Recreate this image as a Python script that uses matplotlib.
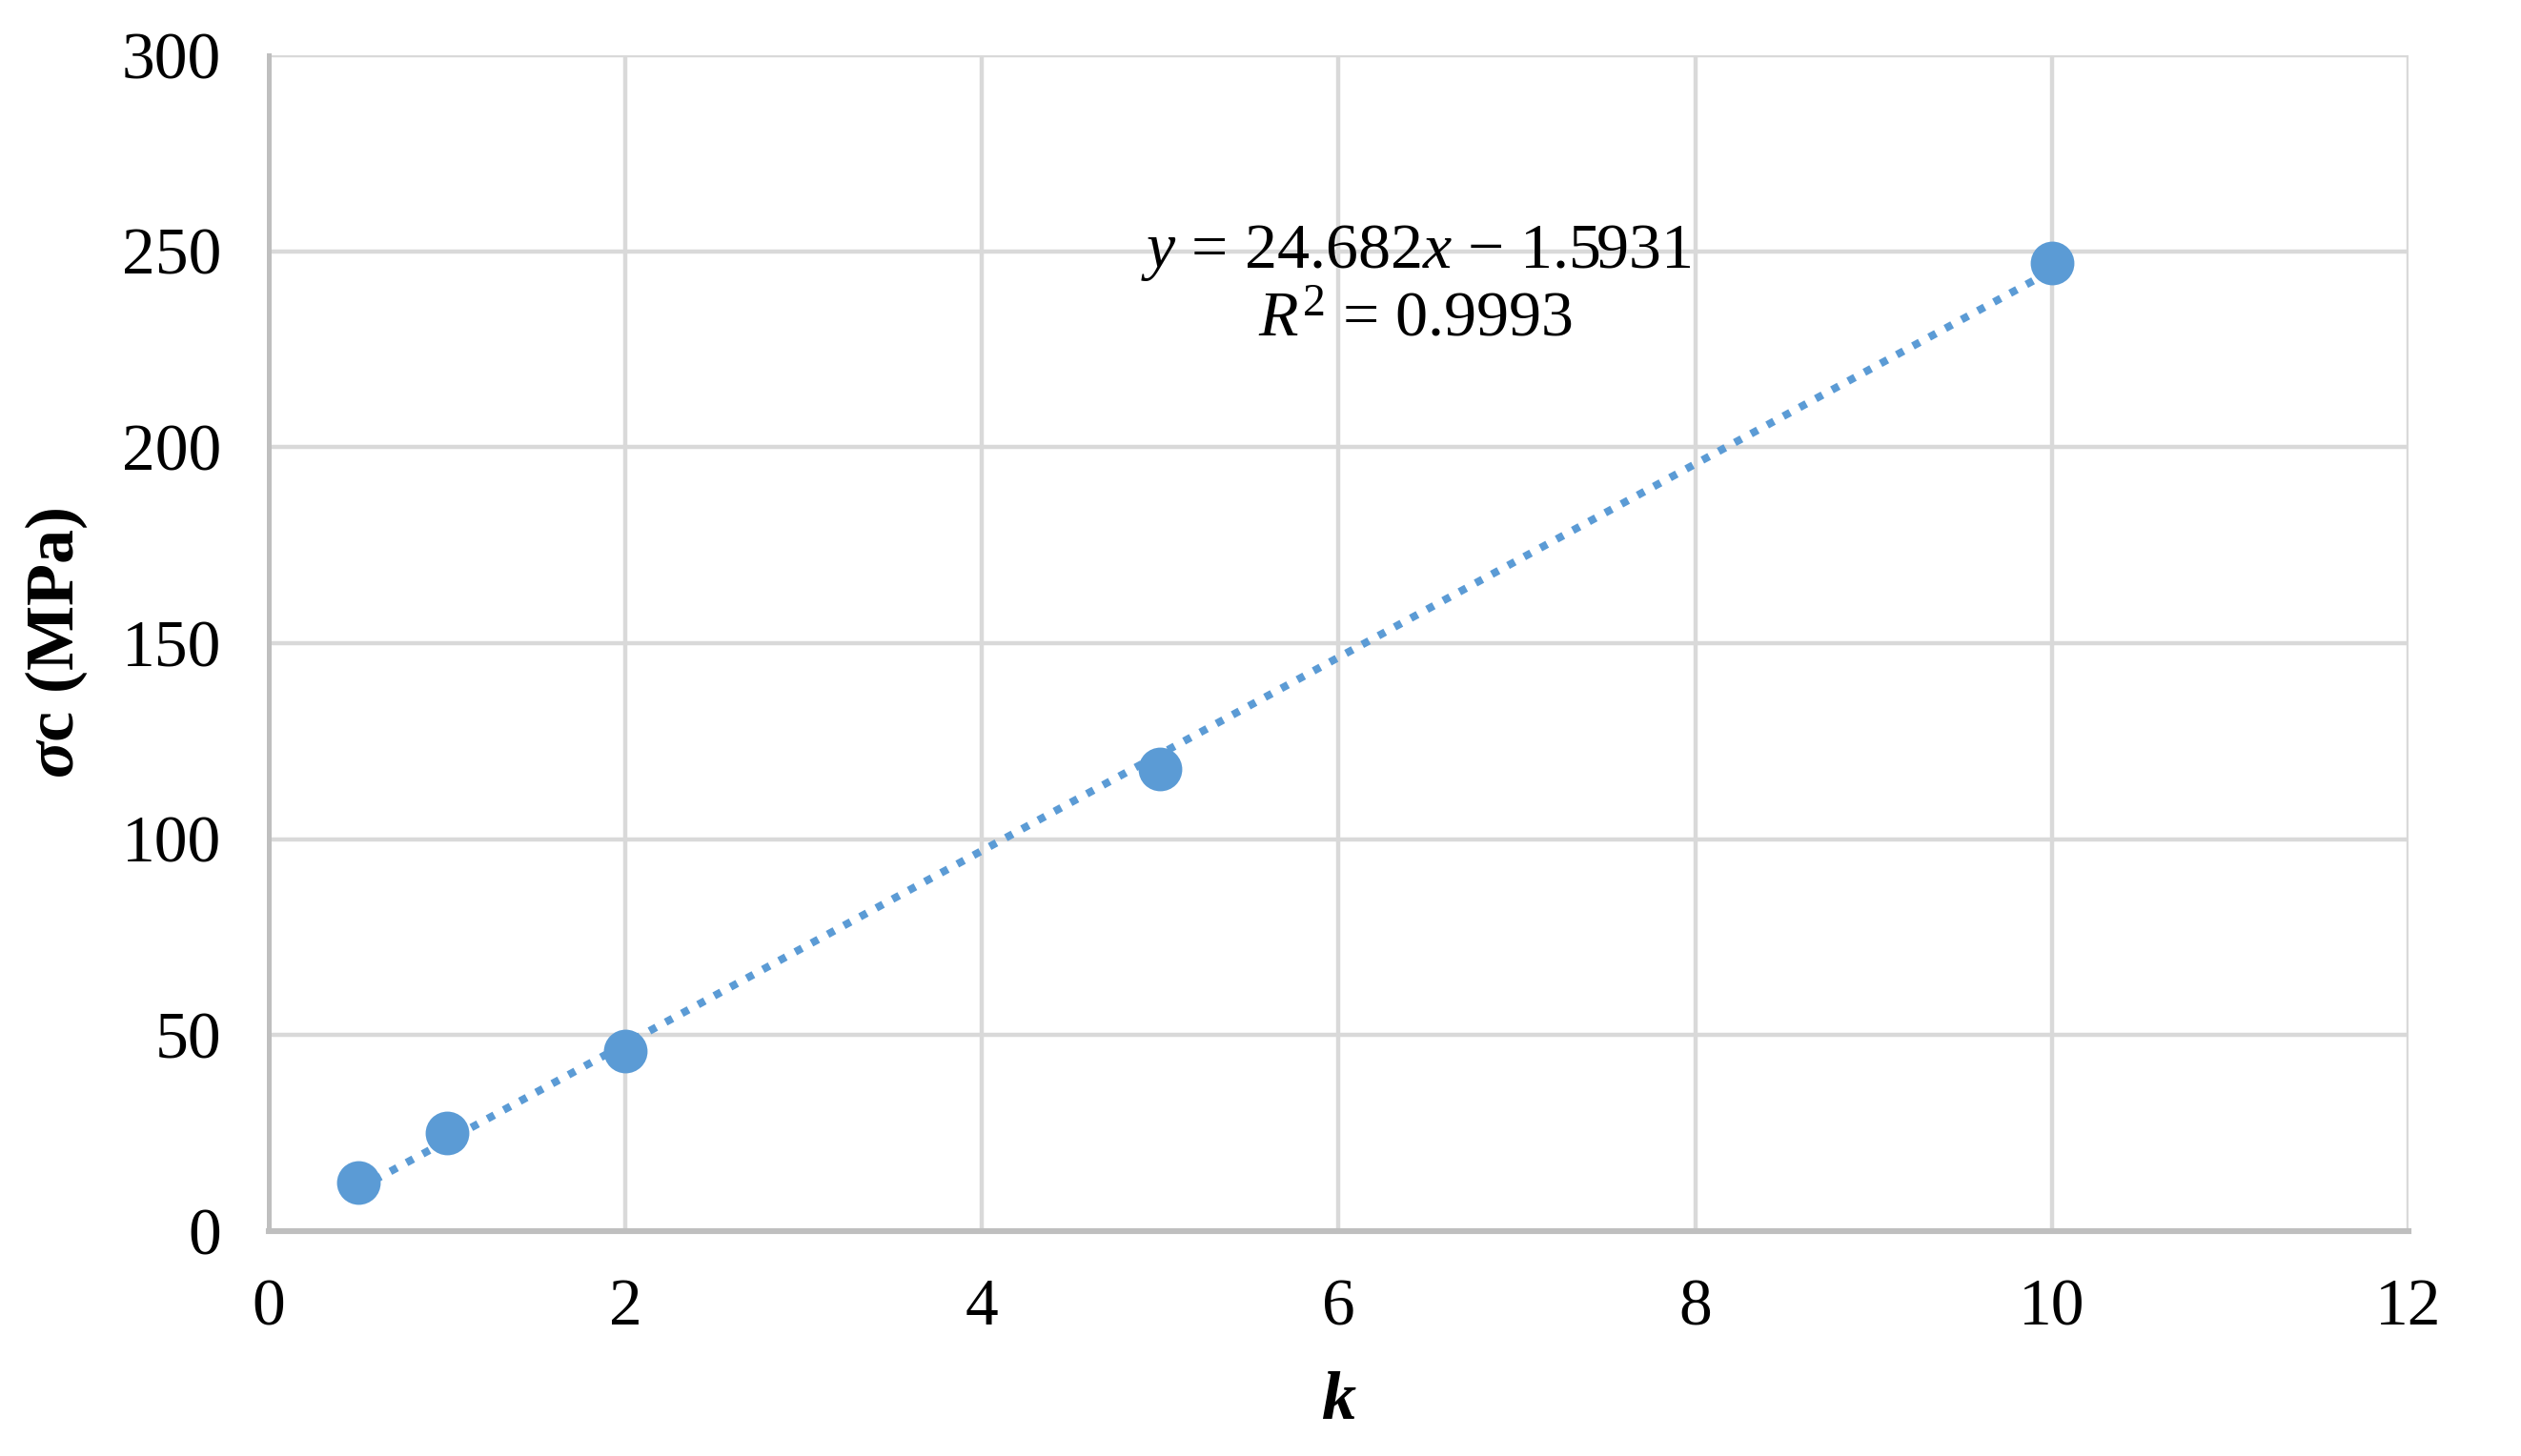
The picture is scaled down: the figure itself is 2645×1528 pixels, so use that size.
import numpy as np
import matplotlib
matplotlib.use("Agg")
import matplotlib.pyplot as plt

k_values = [0.5, 1, 2, 5, 10]
sigma_c = [12.3, 25.0, 46.0, 118.0, 247.0]
x_ticks = [0, 2, 4, 6, 8, 10, 12]
y_ticks = [0, 50, 100, 150, 200, 250, 300]

plt.rcParams['font.family'] = ['Liberation Serif', 'DejaVu Serif']
plt.rcParams['mathtext.fontset'] = 'custom'
plt.rcParams['mathtext.rm'] = 'Liberation Serif'
plt.rcParams['mathtext.it'] = 'Liberation Serif:italic'
plt.rcParams['mathtext.bf'] = 'Liberation Serif:bold'
plt.rcParams['mathtext.bfit'] = 'Liberation Serif:bold:italic'

blue = '#5B9BD5'
fig = plt.figure(figsize=(13.225, 7.64), dpi=200)
ax = fig.add_axes([0.1066, 0.1545, 0.8488, 0.8075])

slope, intercept = np.polyfit(k_values, sigma_c, 1)
xs = np.array([min(k_values), max(k_values)])
ax.plot(xs, slope * xs + intercept, color=blue, lw=2.9,
        linestyle=(0, (1, 1.4)), zorder=3)
ax.plot(k_values, sigma_c, 'o', color=blue, markersize=15.5, zorder=4)

ax.set_xlim(0, 12)
ax.set_ylim(0, 300)
ax.set_xticks(x_ticks)
ax.set_yticks(y_ticks)
ax.grid(True, color='#D9D9D9', lw=1.6)
ax.set_axisbelow(True)
for s in ['top', 'right']:
    ax.spines[s].set_visible(False)
ax.spines['left'].set_color('#BFBFBF')
ax.spines['left'].set_linewidth(1.8)
ax.spines['bottom'].set_color('#BFBFBF')
ax.spines['bottom'].set_linewidth(2.2)
ax.tick_params(length=0, labelsize=25, pad=18)

ax.set_xlabel(r'$\mathbfit{k}$', fontsize=26, labelpad=12)
ax.set_ylabel(r'$\mathbfit{\sigma}$c (MPa)', fontsize=26, fontweight='bold', labelpad=12)

ax.text(0.536, 0.832, r'$y$ = 24.682$x$ − 1.5931', transform=ax.transAxes,
        ha='center', va='center', fontsize=24.5)
ax.text(0.536, 0.774, r'$R^{2}$ = 0.9993', transform=ax.transAxes,
        ha='center', va='center', fontsize=24.5)

fig.savefig('out.png', dpi=200)
